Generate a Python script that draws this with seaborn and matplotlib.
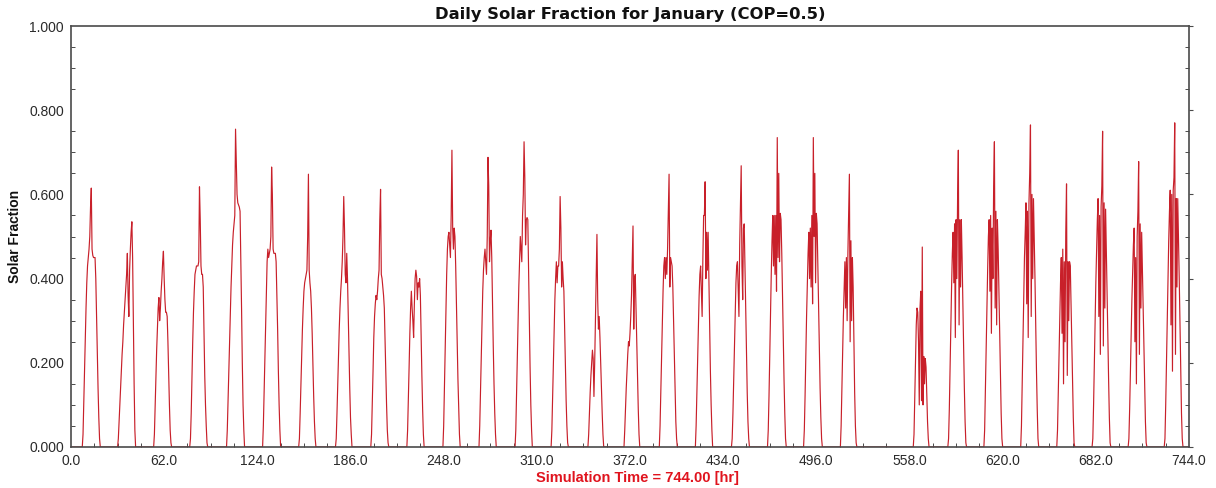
import matplotlib
matplotlib.use("Agg")
import matplotlib.pyplot as plt
from matplotlib.ticker import MultipleLocator, FormatStrFormatter
import numpy as np
import pandas as pd
import seaborn as sns

# Hour-of-day sampling points for each daytime profile (half-hour steps)
day_hours = [7.5, 8.0, 8.5, 9.0, 9.5, 10.0, 10.5, 11.0, 11.5, 12.0, 12.5, 13.0,
             13.5, 14.0, 14.5, 15.0, 15.5, 16.0, 16.5, 17.0, 17.5, 18.0, 18.5,
             19.0, 19.5]

# Solar fraction during daylight hours, one list per day of January
day01 = [0, 0.03, 0.10, 0.18, 0.26, 0.33, 0.39, 0.43, 0.45, 0.47, 0.50, 0.57, 0.615, 0.47, 0.455, 0.45, 0.45, 0.45, 0.40, 0.31, 0.22, 0.14, 0.07, 0.02, 0]
day02 = [0.02, 0.06, 0.10, 0.14, 0.18, 0.22, 0.25, 0.29, 0.32, 0.35, 0.38, 0.41, 0.46, 0.36, 0.31, 0.42, 0.47, 0.51, 0.535, 0.45, 0.30, 0.15, 0.04, 0, 0]
day03 = [0.03, 0.10, 0.17, 0.23, 0.28, 0.33, 0.355, 0.30, 0.33, 0.37, 0.40, 0.44, 0.465, 0.40, 0.35, 0.32, 0.32, 0.31, 0.25, 0.17, 0.10, 0.04, 0.01, 0, 0]
day04 = [0.02, 0.08, 0.17, 0.25, 0.32, 0.37, 0.41, 0.42, 0.43, 0.43, 0.43, 0.44, 0.618, 0.54, 0.43, 0.41, 0.41, 0.38, 0.27, 0.17, 0.10, 0.05, 0.01, 0, 0]
day05 = [0, 0.04, 0.11, 0.18, 0.25, 0.32, 0.38, 0.43, 0.48, 0.51, 0.53, 0.55, 0.755, 0.68, 0.60, 0.58, 0.575, 0.57, 0.56, 0.45, 0.33, 0.20, 0.10, 0.04, 0]
day06 = [0, 0.05, 0.13, 0.22, 0.30, 0.37, 0.44, 0.47, 0.45, 0.46, 0.47, 0.50, 0.665, 0.60, 0.47, 0.46, 0.46, 0.46, 0.44, 0.36, 0.28, 0.18, 0.10, 0.04, 0]
day07 = [0, 0.02, 0.08, 0.15, 0.22, 0.28, 0.33, 0.37, 0.39, 0.40, 0.41, 0.42, 0.50, 0.648, 0.42, 0.39, 0.37, 0.33, 0.27, 0.19, 0.12, 0.06, 0.02, 0, 0]
day08 = [0, 0, 0.02, 0.08, 0.15, 0.22, 0.28, 0.33, 0.37, 0.40, 0.44, 0.50, 0.595, 0.52, 0.41, 0.39, 0.46, 0.40, 0.31, 0.22, 0.14, 0.07, 0.03, 0, 0]
day09 = [0, 0.03, 0.10, 0.18, 0.26, 0.31, 0.34, 0.36, 0.35, 0.37, 0.40, 0.42, 0.54, 0.612, 0.41, 0.40, 0.38, 0.36, 0.33, 0.25, 0.17, 0.10, 0.04, 0.01, 0]
day10 = [0, 0.04, 0.11, 0.19, 0.27, 0.33, 0.37, 0.33, 0.30, 0.26, 0.34, 0.40, 0.42, 0.405, 0.35, 0.39, 0.38, 0.40, 0.36, 0.26, 0.17, 0.09, 0.03, 0, 0]
day11 = [0, 0.05, 0.14, 0.24, 0.33, 0.41, 0.47, 0.50, 0.51, 0.48, 0.45, 0.55, 0.705, 0.52, 0.47, 0.52, 0.50, 0.43, 0.34, 0.25, 0.16, 0.09, 0.03, 0, 0]
day12 = [0, 0.05, 0.13, 0.22, 0.30, 0.37, 0.42, 0.45, 0.47, 0.44, 0.41, 0.50, 0.688, 0.62, 0.44, 0.49, 0.515, 0.45, 0.34, 0.24, 0.15, 0.08, 0.03, 0, 0]
day13 = [0, 0.04, 0.12, 0.21, 0.30, 0.38, 0.44, 0.50, 0.47, 0.44, 0.55, 0.60, 0.725, 0.64, 0.48, 0.54, 0.545, 0.54, 0.42, 0.30, 0.19, 0.10, 0.04, 0, 0]
day14 = [0, 0.04, 0.12, 0.21, 0.29, 0.35, 0.40, 0.44, 0.39, 0.43, 0.43, 0.47, 0.595, 0.52, 0.38, 0.44, 0.40, 0.37, 0.28, 0.19, 0.11, 0.05, 0.01, 0, 0]
day15 = [0, 0, 0.03, 0.08, 0.13, 0.17, 0.20, 0.23, 0.21, 0.12, 0.20, 0.30, 0.40, 0.505, 0.35, 0.28, 0.31, 0.26, 0.20, 0.14, 0.08, 0.03, 0, 0, 0]
day16 = [0, 0, 0.04, 0.09, 0.14, 0.18, 0.22, 0.25, 0.24, 0.27, 0.31, 0.36, 0.44, 0.525, 0.28, 0.40, 0.41, 0.33, 0.24, 0.16, 0.09, 0.03, 0, 0, 0]
day17 = [0, 0.05, 0.13, 0.22, 0.30, 0.37, 0.43, 0.45, 0.40, 0.45, 0.41, 0.47, 0.56, 0.648, 0.38, 0.45, 0.44, 0.43, 0.38, 0.30, 0.21, 0.13, 0.06, 0.02, 0]
day18 = [0, 0.05, 0.13, 0.22, 0.30, 0.36, 0.41, 0.43, 0.37, 0.31, 0.45, 0.55, 0.55, 0.63, 0.40, 0.51, 0.42, 0.51, 0.40, 0.28, 0.18, 0.10, 0.04, 0, 0]
day19 = [0, 0.02, 0.08, 0.16, 0.25, 0.33, 0.39, 0.43, 0.44, 0.37, 0.31, 0.48, 0.58, 0.668, 0.43, 0.35, 0.52, 0.53, 0.43, 0.32, 0.22, 0.13, 0.06, 0.02, 0]
day20 = [0, 0.04, 0.12, 0.22, 0.32, 0.41, 0.49, 0.55, 0.43, 0.55, 0.41, 0.55, 0.37, 0.735, 0.45, 0.65, 0.44, 0.555, 0.54, 0.46, 0.36, 0.26, 0.16, 0.08, 0.02]
day21 = [0, 0.04, 0.12, 0.22, 0.31, 0.39, 0.46, 0.51, 0.40, 0.52, 0.38, 0.55, 0.34, 0.735, 0.50, 0.65, 0.39, 0.555, 0.53, 0.43, 0.33, 0.23, 0.14, 0.07, 0.02]
day22 = [0, 0, 0.05, 0.14, 0.23, 0.31, 0.38, 0.44, 0.33, 0.45, 0.30, 0.46, 0.55, 0.648, 0.25, 0.49, 0.30, 0.45, 0.38, 0.25, 0.13, 0.05, 0.01, 0, 0]
day23 = None  # no collector output recorded on this day
day24 = [0, 0, 0, 0.03, 0.12, 0.21, 0.29, 0.33, 0.32, 0.25, 0.10, 0.33, 0.37, 0.11, 0.475, 0.10, 0.215, 0.15, 0.21, 0.19, 0.12, 0.06, 0.02, 0, 0]
day25 = [0, 0.02, 0.09, 0.19, 0.29, 0.38, 0.46, 0.51, 0.39, 0.53, 0.26, 0.54, 0.40, 0.59, 0.705, 0.29, 0.54, 0.38, 0.54, 0.45, 0.34, 0.24, 0.14, 0.06, 0.01]
day26 = [0, 0.04, 0.13, 0.23, 0.33, 0.42, 0.50, 0.54, 0.37, 0.55, 0.27, 0.52, 0.40, 0.62, 0.725, 0.33, 0.56, 0.29, 0.54, 0.47, 0.37, 0.27, 0.17, 0.08, 0.02]
day27 = [0, 0, 0.05, 0.15, 0.26, 0.36, 0.45, 0.51, 0.58, 0.34, 0.56, 0.26, 0.58, 0.65, 0.765, 0.31, 0.60, 0.40, 0.59, 0.50, 0.40, 0.29, 0.18, 0.09, 0.02]
day28 = [0, 0, 0.04, 0.13, 0.22, 0.31, 0.39, 0.45, 0.27, 0.47, 0.15, 0.44, 0.25, 0.51, 0.625, 0.17, 0.44, 0.30, 0.44, 0.43, 0.34, 0.25, 0.15, 0.07, 0.01]
day29 = [0, 0.02, 0.10, 0.20, 0.30, 0.39, 0.47, 0.54, 0.59, 0.31, 0.55, 0.22, 0.57, 0.62, 0.75, 0.24, 0.58, 0.33, 0.565, 0.46, 0.36, 0.26, 0.16, 0.07, 0.01]
day30 = [0, 0.02, 0.09, 0.18, 0.27, 0.35, 0.42, 0.48, 0.52, 0.25, 0.45, 0.15, 0.50, 0.56, 0.678, 0.22, 0.53, 0.33, 0.51, 0.42, 0.33, 0.23, 0.14, 0.06, 0.01]
day31 = [0, 0.02, 0.10, 0.20, 0.30, 0.40, 0.49, 0.56, 0.61, 0.29, 0.60, 0.18, 0.61, 0.64, 0.77, 0.22, 0.59, 0.38, 0.59, 0.50, 0.40, 0.29, 0.18, 0.08, 0.02]

daily_profiles = [day01, day02, day03, day04, day05, day06, day07, day08,
                  day09, day10, day11, day12, day13, day14, day15, day16,
                  day17, day18, day19, day20, day21, day22, day23, day24,
                  day25, day26, day27, day28, day29, day30, day31]

x_ticks = [0.0, 62.0, 124.0, 186.0, 248.0, 310.0, 372.0, 434.0, 496.0, 558.0,
           620.0, 682.0, 744.0]
y_ticks = [0.0, 0.2, 0.4, 0.6, 0.8, 1.0]

# Assemble the time series: zero at night, daily profile in daylight
times, values = [0.0], [0.0]
for d, prof in enumerate(daily_profiles):
    if prof is None:
        continue
    base = 24.0 * d
    times.append(base + 7.0)
    values.append(0.0)
    times.extend(base + h for h in day_hours)
    values.extend(prof)
    times.append(base + 20.0)
    values.append(0.0)
times.append(744.0)
values.append(0.0)
df = pd.DataFrame({"time": times, "fraction": values})

sns.set_theme(style="white")
plt.rcParams["font.family"] = ["Liberation Sans", "DejaVu Sans"]

W, H = 1216, 488
fig = plt.figure(figsize=(W / 100, H / 100), dpi=100)
ax = fig.add_axes([71 / W, 41 / H, 1118 / W, 421 / H])

sns.lineplot(data=df, x="time", y="fraction", ax=ax, color="#c8202a",
             linewidth=0.85, estimator=None, sort=False)

ax.set_xlim(0, 744)
ax.set_ylim(0, 1.0)
ax.set_xticks(x_ticks)
ax.set_yticks(y_ticks)
ax.xaxis.set_major_formatter(FormatStrFormatter("%.1f"))
ax.yaxis.set_major_formatter(FormatStrFormatter("%.3f"))
ax.xaxis.set_minor_locator(MultipleLocator(15.5))
ax.yaxis.set_minor_locator(MultipleLocator(0.05))

spine_col = "#4a4a4a"
for s in ax.spines.values():
    s.set_visible(True)
    s.set_color(spine_col)
    s.set_linewidth(1.2)
    s.set_zorder(3)

ax.tick_params(which="major", direction="out", length=3, width=0.8,
               color=spine_col, labelsize=10, labelcolor="#2a2a2a", pad=2)
ax.tick_params(which="minor", direction="in", length=3, width=0.7,
               color=spine_col, left=True, bottom=True, right=True)
ax.tick_params(axis="y", which="both", right=True)

ax.set_title("Daily Solar Fraction for January (COP=0.5)", fontsize=11.8,
             fontweight="bold", color="#111111", pad=5,
             family=["DejaVu Sans"])
ax.set_ylabel("Solar Fraction", fontsize=10, fontweight="bold",
              color="#111111", labelpad=5)
ax.set_xlabel("Simulation Time = 744.00 [hr]", fontsize=10.5, fontweight="bold",
              color="#e0141e")
ax.xaxis.set_label_coords(0.507, -0.056)

fig.savefig("out.png", dpi=100)
